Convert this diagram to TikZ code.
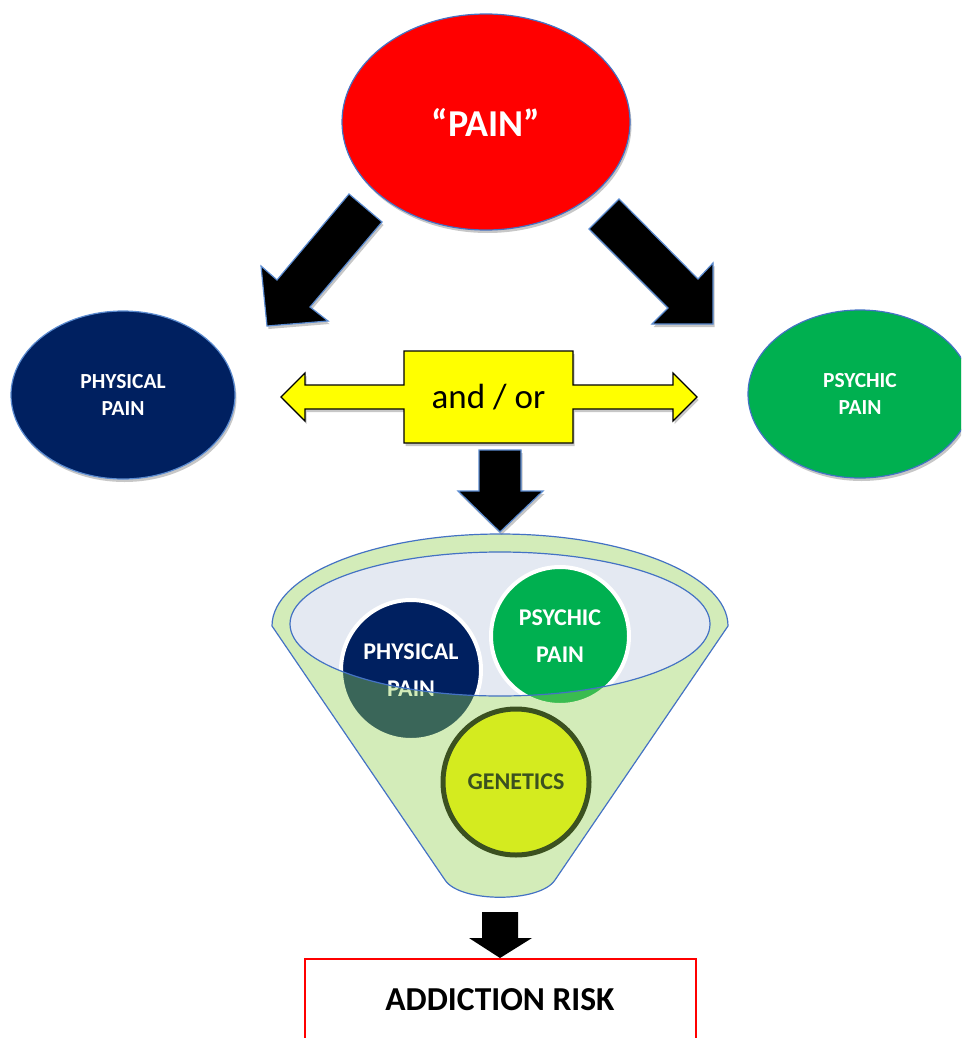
\documentclass[tikz,border=0pt]{standalone}
\usepackage{fontspec}
\setmainfont{Carlito}
\usetikzlibrary{shapes.geometric,shadows}

\definecolor{edgeblue}{HTML}{4472C4}
\definecolor{softblue}{HTML}{5B8BD0}
\definecolor{painred}{HTML}{FF0000}
\definecolor{navy}{HTML}{002060}
\definecolor{psygreen}{HTML}{00B050}
\definecolor{funnelgreen}{HTML}{92D050}
\definecolor{rimfill}{HTML}{E4E9F2}
\definecolor{limefill}{HTML}{D4EB1F}
\definecolor{olive}{HTML}{3B5120}
\definecolor{arrowyellow}{HTML}{FFFF00}

\tikzset{
  softshadow/.style={drop shadow={shadow xshift=1.5pt, shadow yshift=-3pt, opacity=0.22, fill=black}},
  painblob/.style={ellipse, inner sep=0pt, draw=softblue, line width=1.2pt, softshadow,
                   text=white, align=center, font=\fontsize{21.5}{27.5}\selectfont\bfseries},
  blockarrow/.style={fill=black, draw=softblue, line width=1.2pt, line join=miter, softshadow},
  incircle/.style={circle, inner sep=0pt, draw=white, line width=4pt, text=white,
                   align=center, font=\fontsize{24}{37}\selectfont\bfseries},
}

\begin{document}
\begin{tikzpicture}[x=1pt, y=-1pt]
\useasboundingbox (0,0) rectangle (961,1038);
\clip (0,0) rectangle (961,1038);

% top ellipse and the two kinds of pain
\node[painblob, fill=painred, draw=edgeblue, minimum width=288, minimum height=216,
      font=\fontsize{38}{44}\selectfont\bfseries] (pain) at (486,122) {“PAIN”};
\node[painblob, fill=navy, minimum width=224, minimum height=168] (physical) at (123,395) {PHYSICAL\\PAIN};
\node[painblob, fill=psygreen, draw=edgeblue, minimum width=224, minimum height=168] (psychic) at (860,394) {PSYCHIC\\PAIN};

% block arrows out of the top ellipse
\filldraw[blockarrow] (349,194) -- (382,222) -- (310,307) -- (328,321) -- (267,326) -- (261,266) -- (277,280) -- cycle;
\filldraw[blockarrow] (619,199) -- (589,229) -- (668,308) -- (652,324) -- (713,324) -- (713,263) -- (698,279) -- cycle;

% left-right callout
\filldraw[fill=arrowyellow, draw=black, line width=1.2pt, softshadow]
  (404,351) -- (573,351) -- (573,385) -- (673,385) -- (673,373) -- (697,397) -- (673,421) -- (673,409)
  -- (573,409) -- (573,443) -- (404,443) -- (404,409) -- (305,409) -- (305,421) -- (281,397) -- (305,373)
  -- (305,385) -- (404,385) -- cycle;
\node[font=\fontsize{35}{40}\selectfont, inner sep=0pt] (andor) at (488.5,397) {and / or};

% arrow down into the funnel
\filldraw[blockarrow] (479,450) -- (521,450) -- (521,491) -- (543,491) -- (500,532) -- (458,491) -- (479,491) -- cycle;

% funnel: rim interior first, then the balls, then the translucent body on top
\fill[rimfill] (500,624) ellipse[x radius=210, y radius=72];

\node[incircle, fill=navy, minimum size=140] (fphys) at (411,670) {PHYSICAL\\PAIN};
\node[incircle, fill=psygreen, minimum size=138] (fpsy) at (560,636) {PSYCHIC\\PAIN};

\fill[funnelgreen, opacity=0.4, even odd rule]
  (272,626) arc[start angle=180, end angle=360, x radius=228, y radius=92]
  -- (555,880) .. controls (540,903) and (460,903) .. (445,880) -- cycle
  (500,624) ellipse[x radius=210, y radius=72];
\draw[edgeblue, line width=1.2pt, line join=round]
  (272,626) arc[start angle=180, end angle=360, x radius=228, y radius=92]
  -- (555,880) .. controls (540,903) and (460,903) .. (445,880) -- cycle;
\draw[edgeblue, line width=1.2pt] (500,624) ellipse[x radius=210, y radius=72];

\node[circle, inner sep=0pt, fill=limefill, draw=olive, line width=5pt, minimum size=146,
      text=olive, font=\fontsize{24}{30}\selectfont\bfseries] (genetics) at (516,782) {GENETICS};

% arrow down to the result
\fill (482,912) -- (518,912) -- (518,938) -- (532,938) -- (500,958) -- (469,938) -- (482,938) -- cycle;

% result box, running past the lower edge
\draw[red, line width=1.5pt] (305,1050) -- (305,959) -- (696,959) -- (696,1050);
\node[font=\fontsize{33.5}{38}\selectfont\bfseries, inner sep=0pt] (risk) at (500,1000) {ADDICTION RISK};
\end{tikzpicture}
\end{document}
